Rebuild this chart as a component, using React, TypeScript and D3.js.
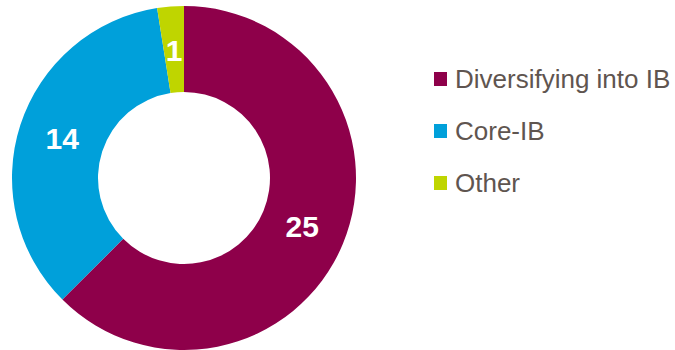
import React from "react";
import * as d3 from "d3";

const categories = ["Diversifying into IB", "Core-IB", "Other"];
const values = [25, 14, 1];
const colors = ["#8E004A", "#00A0DA", "#BFD500"];

export default function App() {
  const width = 675;
  const height = 350;
  const cx = 184;
  const cy = 178;
  const outerR = 172;
  const innerR = 86;
  const pie = d3.pie<number>().sort(null).value((d) => d);
  const arcs = pie(values);
  const arc = d3.arc<d3.PieArcDatum<number>>().innerRadius(innerR).outerRadius(outerR);
  const labelArc = d3.arc<d3.PieArcDatum<number>>().innerRadius(128).outerRadius(128);
  const legendY = d3.scalePoint<string>().domain(categories).range([79, 183]);

  return (
    <svg width={width} height={height} style={{ position: "absolute", left: 0, top: 0 }}
      fontFamily="'Liberation Sans', Arial, sans-serif">
      <g transform={`translate(${cx},${cy})`}>
        {arcs.map((a, i) => (
          <path key={i} d={arc(a) || ""} fill={colors[i]} />
        ))}
        {arcs.map((a, i) => {
          const [x, y] = labelArc.centroid(a);
          return (
            <text key={i} x={x} y={y} dy="0.35em" textAnchor="middle" fill="#fff"
              fontSize={30} fontWeight="bold">{values[i]}</text>
          );
        })}
      </g>
      {categories.map((c, i) => (
        <g key={c} transform={`translate(434,${legendY(c)})`}>
          <rect x={0} y={-7} width={13} height={14} fill={colors[i]} />
          <text x={21} y={0} dy="0.35em" fontSize={26} fill="#5F5550">{c}</text>
        </g>
      ))}
    </svg>
  );
}
